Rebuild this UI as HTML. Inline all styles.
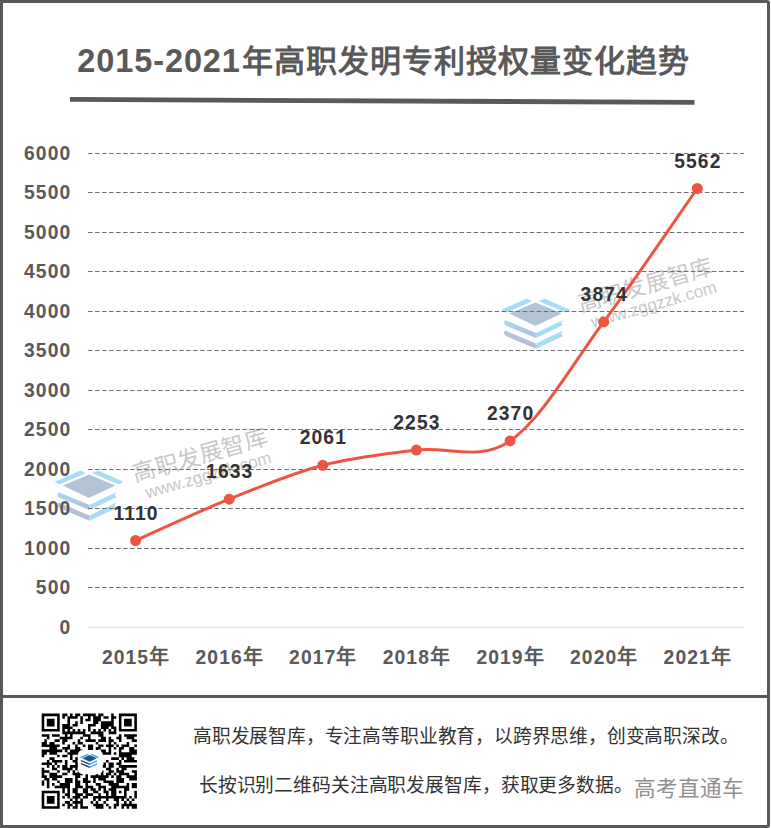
<!DOCTYPE html>
<html lang="zh-CN"><head><meta charset="utf-8">
<style>
html,body{margin:0;padding:0;background:#fff;}
body{width:771px;height:828px;overflow:hidden;position:relative;font-family:"Liberation Sans",sans-serif;}
svg{position:absolute;left:0;top:0;}
</style></head><body>
<svg width="771" height="828" viewBox="0 0 771 828">
<defs>
<linearGradient id="lgA" gradientUnits="userSpaceOnUse" x1="-31" y1="0" x2="0" y2="0"><stop offset="0" stop-color="#a7d5f1"/><stop offset="1" stop-color="#b2c1d5"/></linearGradient>
<linearGradient id="lgB" gradientUnits="userSpaceOnUse" x1="-31" y1="0" x2="0" y2="0"><stop offset="0" stop-color="#b2c6de"/><stop offset="1" stop-color="#bdb9d1"/></linearGradient>
</defs>
<path fill="#595959" fill-rule="evenodd" d="M0 0H767Q770 0 770 3V825Q770 828 767 828H0Z M3 3V825H767V3Z"/>
<rect x="0" y="695" width="770" height="3" fill="#595959"/>
<text x="77.3" y="72" font-size="32.5" font-weight="bold" fill="#595959" font-family="Liberation Sans, sans-serif"><tspan letter-spacing="0.9">2015-2021</tspan><tspan font-size="31" letter-spacing="1" dx="1">年高职发明专利授权量变化趋势</tspan></text>
<polygon points="70,97 694.5,100 694.5,104.8 70,101.8" fill="#595959"/>
<g transform="translate(89.1,474.8)">
<polygon fill="#a9ddf6" points="-34.4,6.9 -8.7,-4.3 -3.3,-1.6 -29.7,9.8"/>
<polygon fill="#a9ddf6" points="34.4,6.9 8.7,-4.3 3.3,-1.6 29.7,9.8"/>
<polygon fill="#b3c4d7" points="-26.3,10.8 0,-0.4 26.2,10.8 -0.2,23.3"/>
<path fill="url(#lgA)" d="M-30.3 17.4 L0.3 30.3 L0.3 35.2 L-29.3 22.9 Q-31.8 21.6 -31.6 19.4 Q-31.4 17.6 -30.3 17.4Z"/>
<path fill="#a9ddf6" d="M0.3 30.3 L27.2 17.4 L25.8 20 L27.2 22.5 L0.3 35.2Z"/>
<path fill="url(#lgB)" d="M-30.3 27.8 L0.3 40.7 L0.3 45.9 L-29.3 33.4 Q-31.8 32.1 -31.6 29.9 Q-31.4 28 -30.3 27.8Z"/>
<path fill="#a9ddf6" d="M0.3 40.7 L27.2 27.7 L25.8 30.6 L27.2 33.5 L0.3 45.9Z"/>
</g>
<g transform="translate(535.6,302.8)">
<polygon fill="#a9ddf6" points="-34.4,6.9 -8.7,-4.3 -3.3,-1.6 -29.7,9.8"/>
<polygon fill="#a9ddf6" points="34.4,6.9 8.7,-4.3 3.3,-1.6 29.7,9.8"/>
<polygon fill="#b3c4d7" points="-26.3,10.8 0,-0.4 26.2,10.8 -0.2,23.3"/>
<path fill="url(#lgA)" d="M-30.3 17.4 L0.3 30.3 L0.3 35.2 L-29.3 22.9 Q-31.8 21.6 -31.6 19.4 Q-31.4 17.6 -30.3 17.4Z"/>
<path fill="#a9ddf6" d="M0.3 30.3 L27.2 17.4 L25.8 20 L27.2 22.5 L0.3 35.2Z"/>
<path fill="url(#lgB)" d="M-30.3 27.8 L0.3 40.7 L0.3 45.9 L-29.3 33.4 Q-31.8 32.1 -31.6 29.9 Q-31.4 28 -30.3 27.8Z"/>
<path fill="#a9ddf6" d="M0.3 40.7 L27.2 27.7 L25.8 30.6 L27.2 33.5 L0.3 45.9Z"/>
</g>
<g transform="translate(134.8,482.6) rotate(-16)" fill="#c8c8c8">
<text x="0.5" y="0" font-size="23" letter-spacing="0.2" font-family="Liberation Sans, sans-serif">高职发展智库</text>
<text x="7.5" y="18.6" font-size="17" font-family="Liberation Sans">www.zggzzk.com</text>
</g>
<g transform="translate(580.3,312.1) rotate(-16)" fill="#c8c8c8">
<text x="0.5" y="0" font-size="23" letter-spacing="0.2" font-family="Liberation Sans, sans-serif">高职发展智库</text>
<text x="7.5" y="18.6" font-size="17" font-family="Liberation Sans">www.zggzzk.com</text>
</g>
<g stroke="#6e6e6e" stroke-width="1" stroke-dasharray="4.6 2.41"><line x1="88" y1="153.5" x2="744" y2="153.5" /><line x1="88" y1="192.5" x2="744" y2="192.5" /><line x1="88" y1="232.5" x2="744" y2="232.5" /><line x1="88" y1="271.5" x2="744" y2="271.5" /><line x1="88" y1="311.5" x2="744" y2="311.5" /><line x1="88" y1="350.5" x2="744" y2="350.5" /><line x1="88" y1="390.5" x2="744" y2="390.5" /><line x1="88" y1="429.5" x2="744" y2="429.5" /><line x1="88" y1="469.5" x2="744" y2="469.5" /><line x1="88" y1="508.5" x2="744" y2="508.5" /><line x1="88" y1="548.5" x2="744" y2="548.5" /><line x1="88" y1="587.5" x2="744" y2="587.5" /></g>
<line x1="88" y1="627.3" x2="744" y2="627.3" stroke="#d9d9d9" stroke-width="1"/>
<g font-family="Liberation Sans" font-size="19.3" font-weight="bold" fill="#595959" stroke="#595959" stroke-width="0" letter-spacing="1.1" text-anchor="end"><text transform="translate(71.3,159.7) scale(1.0,1)">6000</text><text transform="translate(71.3,199.2) scale(1.0,1)">5500</text><text transform="translate(71.3,238.7) scale(1.0,1)">5000</text><text transform="translate(71.3,278.1) scale(1.0,1)">4500</text><text transform="translate(71.3,317.6) scale(1.0,1)">4000</text><text transform="translate(71.3,357.1) scale(1.0,1)">3500</text><text transform="translate(71.3,396.6) scale(1.0,1)">3000</text><text transform="translate(71.3,436.1) scale(1.0,1)">2500</text><text transform="translate(71.3,475.6) scale(1.0,1)">2000</text><text transform="translate(71.3,515.0) scale(1.0,1)">1500</text><text transform="translate(71.3,554.5) scale(1.0,1)">1000</text><text transform="translate(71.3,594.0) scale(1.0,1)">500</text><text transform="translate(71.3,633.5) scale(1.0,1)">0</text></g>
<g font-family="Liberation Sans" font-size="19.3" font-weight="bold" fill="#595959" stroke="#595959" stroke-width="0" letter-spacing="1.1" text-anchor="middle"><text transform="translate(136.1,663.8) scale(1.0,1)">2015<tspan font-family="Liberation Sans, sans-serif" font-size="20" stroke="none">年</tspan></text><text transform="translate(229.7,663.8) scale(1.0,1)">2016<tspan font-family="Liberation Sans, sans-serif" font-size="20" stroke="none">年</tspan></text><text transform="translate(323.3,663.8) scale(1.0,1)">2017<tspan font-family="Liberation Sans, sans-serif" font-size="20" stroke="none">年</tspan></text><text transform="translate(416.9,663.8) scale(1.0,1)">2018<tspan font-family="Liberation Sans, sans-serif" font-size="20" stroke="none">年</tspan></text><text transform="translate(510.6,663.8) scale(1.0,1)">2019<tspan font-family="Liberation Sans, sans-serif" font-size="20" stroke="none">年</tspan></text><text transform="translate(604.2,663.8) scale(1.0,1)">2020<tspan font-family="Liberation Sans, sans-serif" font-size="20" stroke="none">年</tspan></text><text transform="translate(697.8,663.8) scale(1.0,1)">2021<tspan font-family="Liberation Sans, sans-serif" font-size="20" stroke="none">年</tspan></text></g>
<path d="M135.6 540.5 C151.2 533.6 198.0 511.7 229.2 499.2 C260.4 486.6 291.6 473.5 322.8 465.3 C354.0 457.1 385.2 454.2 416.4 450.1 C447.6 446.1 478.9 462.2 510.1 440.9 C541.3 419.5 572.5 364.0 603.7 321.9 C634.9 279.9 681.7 210.7 697.3 188.5" fill="none" stroke="#ec5544" stroke-width="3"/>
<g fill="#ec5544"><circle cx="135.6" cy="540.5" r="5.5"/><circle cx="229.2" cy="499.2" r="5.5"/><circle cx="322.8" cy="465.3" r="5.5"/><circle cx="416.4" cy="450.1" r="5.5"/><circle cx="510.1" cy="440.9" r="5.5"/><circle cx="603.7" cy="321.9" r="5.5"/><circle cx="697.3" cy="188.5" r="5.5"/></g>
<g font-family="Liberation Sans" font-size="19.3" font-weight="bold" fill="#333" stroke="#333" stroke-width="0" letter-spacing="1.1" text-anchor="middle"><text transform="translate(136.1,519.5) scale(1.0,1)">1110</text><text transform="translate(229.7,478.2) scale(1.0,1)">1633</text><text transform="translate(323.3,444.3) scale(1.0,1)">2061</text><text transform="translate(416.9,429.1) scale(1.0,1)">2253</text><text transform="translate(510.6,419.9) scale(1.0,1)">2370</text><text transform="translate(604.2,300.9) scale(1.0,1)">3874</text><text transform="translate(697.8,167.5) scale(1.0,1)">5562</text></g>
<g transform="translate(41.7,713.6) scale(2.573)" fill="#000"><path d="M0 0h7v1h-7zM8 0h2v1h-2zM11 0h1v1h-1zM13 0h2v1h-2zM16 0h5v1h-5zM22 0h2v1h-2zM27 0h1v1h-1zM30 0h7v1h-7zM0 1h1v1h-1zM6 1h1v1h-1zM8 1h1v1h-1zM10 1h4v1h-4zM15 1h1v1h-1zM18 1h1v1h-1zM20 1h3v1h-3zM24 1h2v1h-2zM27 1h2v1h-2zM30 1h1v1h-1zM36 1h1v1h-1zM0 2h1v1h-1zM2 2h3v1h-3zM6 2h1v1h-1zM10 2h1v1h-1zM15 2h1v1h-1zM17 2h2v1h-2zM20 2h3v1h-3zM27 2h1v1h-1zM30 2h1v1h-1zM32 2h3v1h-3zM36 2h1v1h-1zM0 3h1v1h-1zM2 3h3v1h-3zM6 3h1v1h-1zM10 3h1v1h-1zM13 3h1v1h-1zM15 3h1v1h-1zM20 3h2v1h-2zM23 3h5v1h-5zM30 3h1v1h-1zM32 3h3v1h-3zM36 3h1v1h-1zM0 4h1v1h-1zM2 4h3v1h-3zM6 4h1v1h-1zM8 4h3v1h-3zM12 4h2v1h-2zM18 4h3v1h-3zM23 4h5v1h-5zM30 4h1v1h-1zM32 4h3v1h-3zM36 4h1v1h-1zM0 5h1v1h-1zM6 5h1v1h-1zM8 5h4v1h-4zM18 5h1v1h-1zM23 5h3v1h-3zM27 5h2v1h-2zM30 5h1v1h-1zM36 5h1v1h-1zM0 6h7v1h-7zM8 6h1v1h-1zM10 6h1v1h-1zM12 6h1v1h-1zM14 6h1v1h-1zM16 6h1v1h-1zM18 6h1v1h-1zM20 6h1v1h-1zM22 6h1v1h-1zM24 6h1v1h-1zM26 6h1v1h-1zM28 6h1v1h-1zM30 6h7v1h-7zM8 7h9v1h-9zM19 7h5v1h-5zM26 7h3v1h-3zM0 8h3v1h-3zM4 8h3v1h-3zM9 8h1v1h-1zM11 8h1v1h-1zM16 8h3v1h-3zM22 8h2v1h-2zM30 8h1v1h-1zM32 8h5v1h-5zM2 9h1v1h-1zM7 9h5v1h-5zM15 9h1v1h-1zM18 9h1v1h-1zM23 9h2v1h-2zM26 9h1v1h-1zM29 9h2v1h-2zM33 9h3v1h-3zM1 10h1v1h-1zM5 10h2v1h-2zM8 10h2v1h-2zM14 10h1v1h-1zM17 10h4v1h-4zM22 10h3v1h-3zM26 10h2v1h-2zM30 10h1v1h-1zM35 10h2v1h-2zM0 11h2v1h-2zM3 11h2v1h-2zM8 11h1v1h-1zM12 11h1v1h-1zM14 11h2v1h-2zM21 11h1v1h-1zM26 11h1v1h-1zM28 11h1v1h-1zM33 11h1v1h-1zM0 12h7v1h-7zM10 12h1v1h-1zM13 12h1v1h-1zM16 12h1v1h-1zM18 12h2v1h-2zM22 12h2v1h-2zM25 12h3v1h-3zM29 12h1v1h-1zM31 12h3v1h-3zM36 12h1v1h-1zM3 13h3v1h-3zM8 13h3v1h-3zM13 13h2v1h-2zM18 13h2v1h-2zM21 13h2v1h-2zM26 13h1v1h-1zM28 13h1v1h-1zM30 13h2v1h-2zM34 13h2v1h-2zM0 14h8v1h-8zM9 14h1v1h-1zM11 14h5v1h-5zM18 14h2v1h-2zM21 14h1v1h-1zM23 14h2v1h-2zM26 14h1v1h-1zM30 14h1v1h-1zM34 14h3v1h-3zM0 15h2v1h-2zM3 15h3v1h-3zM10 15h7v1h-7zM20 15h1v1h-1zM22 15h5v1h-5zM28 15h1v1h-1zM30 15h7v1h-7zM0 16h1v1h-1zM6 16h1v1h-1zM8 16h2v1h-2zM11 16h1v1h-1zM14 16h1v1h-1zM20 16h1v1h-1zM30 16h5v1h-5zM3 17h2v1h-2zM11 17h1v1h-1zM13 17h3v1h-3zM17 17h1v1h-1zM20 17h3v1h-3zM27 17h3v1h-3zM31 17h1v1h-1zM33 17h3v1h-3zM2 18h1v1h-1zM4 18h4v1h-4zM9 18h1v1h-1zM12 18h2v1h-2zM16 18h3v1h-3zM20 18h1v1h-1zM22 18h1v1h-1zM25 18h1v1h-1zM30 18h1v1h-1zM32 18h5v1h-5zM0 19h4v1h-4zM5 19h1v1h-1zM9 19h1v1h-1zM13 19h3v1h-3zM18 19h5v1h-5zM24 19h1v1h-1zM26 19h2v1h-2zM29 19h2v1h-2zM2 20h1v1h-1zM4 20h1v1h-1zM6 20h1v1h-1zM8 20h2v1h-2zM11 20h4v1h-4zM17 20h1v1h-1zM19 20h1v1h-1zM21 20h4v1h-4zM26 20h2v1h-2zM30 20h7v1h-7zM0 21h1v1h-1zM4 21h2v1h-2zM8 21h4v1h-4zM13 21h1v1h-1zM17 21h5v1h-5zM25 21h2v1h-2zM29 21h1v1h-1zM31 21h2v1h-2zM0 22h3v1h-3zM6 22h1v1h-1zM10 22h1v1h-1zM12 22h1v1h-1zM14 22h1v1h-1zM17 22h3v1h-3zM22 22h2v1h-2zM26 22h2v1h-2zM29 22h3v1h-3zM35 22h2v1h-2zM0 23h1v1h-1zM3 23h3v1h-3zM8 23h2v1h-2zM12 23h4v1h-4zM17 23h1v1h-1zM21 23h1v1h-1zM23 23h1v1h-1zM25 23h2v1h-2zM28 23h1v1h-1zM30 23h4v1h-4zM36 23h1v1h-1zM0 24h2v1h-2zM3 24h5v1h-5zM13 24h2v1h-2zM17 24h1v1h-1zM19 24h7v1h-7zM27 24h1v1h-1zM29 24h2v1h-2zM33 24h4v1h-4zM1 25h2v1h-2zM4 25h2v1h-2zM9 25h3v1h-3zM13 25h1v1h-1zM16 25h2v1h-2zM20 25h1v1h-1zM22 25h3v1h-3zM29 25h3v1h-3zM34 25h3v1h-3zM0 26h1v1h-1zM2 26h1v1h-1zM6 26h1v1h-1zM9 26h3v1h-3zM13 26h2v1h-2zM16 26h3v1h-3zM20 26h1v1h-1zM24 26h4v1h-4zM29 26h3v1h-3zM0 27h1v1h-1zM2 27h1v1h-1zM4 27h1v1h-1zM7 27h4v1h-4zM13 27h2v1h-2zM17 27h1v1h-1zM21 27h2v1h-2zM26 27h4v1h-4zM33 27h1v1h-1zM35 27h2v1h-2zM2 28h1v1h-1zM5 28h6v1h-6zM13 28h3v1h-3zM17 28h3v1h-3zM22 28h3v1h-3zM27 28h7v1h-7zM35 28h2v1h-2zM8 29h1v1h-1zM10 29h1v1h-1zM12 29h2v1h-2zM16 29h2v1h-2zM19 29h2v1h-2zM22 29h1v1h-1zM24 29h1v1h-1zM26 29h3v1h-3zM32 29h2v1h-2zM0 30h7v1h-7zM8 30h1v1h-1zM10 30h1v1h-1zM12 30h2v1h-2zM16 30h2v1h-2zM20 30h2v1h-2zM24 30h2v1h-2zM27 30h2v1h-2zM30 30h1v1h-1zM32 30h1v1h-1zM36 30h1v1h-1zM0 31h1v1h-1zM6 31h1v1h-1zM9 31h2v1h-2zM13 31h3v1h-3zM17 31h3v1h-3zM22 31h1v1h-1zM25 31h1v1h-1zM27 31h2v1h-2zM32 31h1v1h-1zM36 31h1v1h-1zM0 32h1v1h-1zM2 32h3v1h-3zM6 32h1v1h-1zM8 32h1v1h-1zM10 32h1v1h-1zM12 32h3v1h-3zM16 32h2v1h-2zM20 32h13v1h-13zM34 32h1v1h-1zM36 32h1v1h-1zM0 33h1v1h-1zM2 33h3v1h-3zM6 33h1v1h-1zM11 33h1v1h-1zM13 33h1v1h-1zM15 33h1v1h-1zM20 33h1v1h-1zM22 33h1v1h-1zM25 33h1v1h-1zM28 33h2v1h-2zM31 33h1v1h-1zM33 33h1v1h-1zM35 33h1v1h-1zM0 34h1v1h-1zM2 34h3v1h-3zM6 34h1v1h-1zM9 34h2v1h-2zM12 34h4v1h-4zM19 34h1v1h-1zM21 34h1v1h-1zM24 34h1v1h-1zM29 34h1v1h-1zM32 34h1v1h-1zM34 34h1v1h-1zM0 35h1v1h-1zM6 35h1v1h-1zM8 35h1v1h-1zM10 35h2v1h-2zM13 35h1v1h-1zM15 35h1v1h-1zM20 35h4v1h-4zM25 35h1v1h-1zM28 35h2v1h-2zM31 35h6v1h-6zM0 36h7v1h-7zM10 36h1v1h-1zM12 36h2v1h-2zM15 36h3v1h-3zM21 36h3v1h-3zM26 36h1v1h-1zM28 36h1v1h-1zM31 36h1v1h-1zM33 36h1v1h-1zM35 36h2v1h-2z"/></g>
<rect x="77.8" y="750" width="25" height="24.3" rx="5" fill="#fff"/>
<g transform="translate(89.6,755.2) scale(0.278)">
<polygon fill="#2aaae2" points="-34.4,6.9 -8.7,-4.3 -3.3,-1.6 -29.7,9.8"/>
<polygon fill="#2aaae2" points="34.4,6.9 8.7,-4.3 3.3,-1.6 29.7,9.8"/>
<polygon fill="#1a4f9a" points="-26.3,10.8 0,-0.4 26.2,10.8 -0.2,23.3"/>
<path fill="#1f3f7c" d="M-30.3 17.4 L0.3 30.3 L0.3 35.2 L-29.3 22.9 Q-31.8 21.6 -31.6 19.4 Q-31.4 17.6 -30.3 17.4Z"/>
<path fill="#2aaae2" d="M0.3 30.3 L27.2 17.4 L25.8 20 L27.2 22.5 L0.3 35.2Z"/>
<path fill="#1b2a60" d="M-30.3 27.8 L0.3 40.7 L0.3 45.9 L-29.3 33.4 Q-31.8 32.1 -31.6 29.9 Q-31.4 28 -30.3 27.8Z"/>
<path fill="#2aaae2" d="M0.3 40.7 L27.2 27.7 L25.8 30.6 L27.2 33.5 L0.3 45.9Z"/>
</g>
<g font-size="18.75" fill="#333" font-family="Liberation Sans, sans-serif">
<text x="193" y="743.2" letter-spacing="-0.19">高职发展智库，专注高等职业教育，以跨界思维，创变高职深改。</text>
<text x="198.8" y="792.2" letter-spacing="-0.13">长按识别二维码关注高职发展智库，获取更多数据。</text>
</g>
<text x="634" y="796.3" font-size="21.5" fill="#8f8f8f" font-family="Liberation Sans, sans-serif">高考直通车</text>
</svg>
</body></html>
